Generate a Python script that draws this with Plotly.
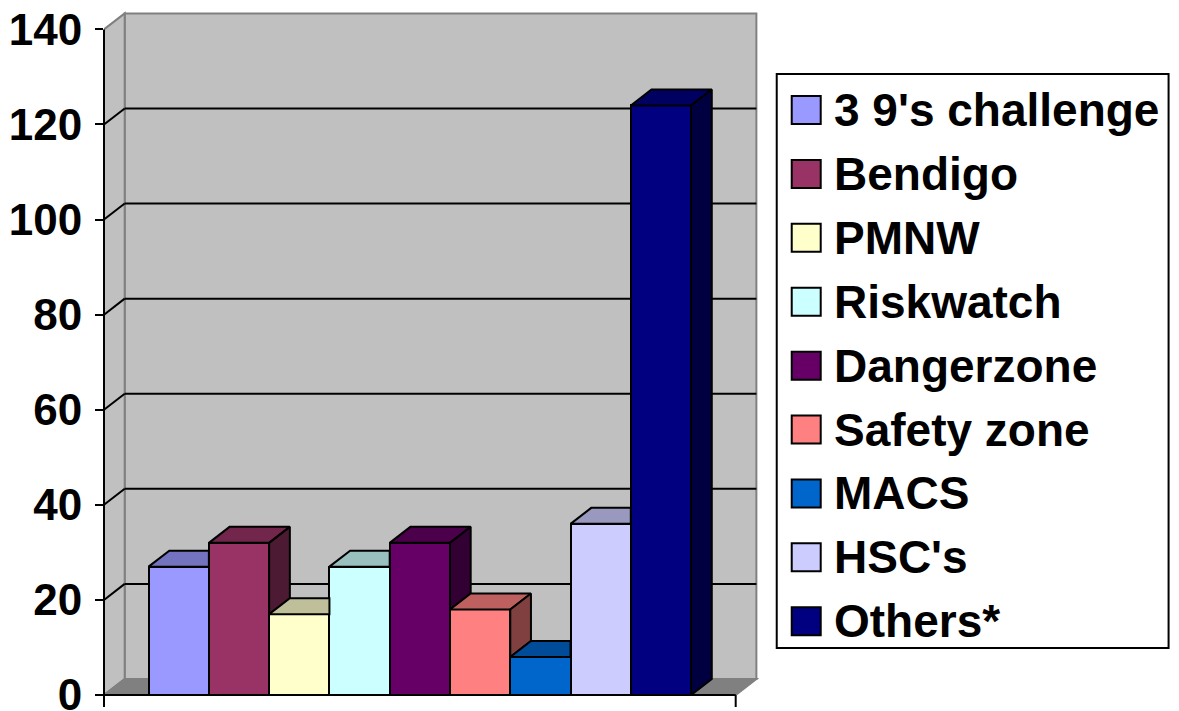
import plotly.graph_objects as go

# ---------------- data ----------------
programs = ["3 9's challenge", "Bendigo", "PMNW", "Riskwatch", "Dangerzone",
            "Safety zone", "MACS", "HSC's", "Others*"]
counts = [27, 32, 17, 27, 32, 18, 8, 36, 124]
colors = ["#9999FF", "#993366", "#FFFFCC", "#CCFFFF", "#660066",
          "#FF8080", "#0066CC", "#CCCCFF", "#000080"]
y_ticks = [0, 20, 40, 60, 80, 100, 120, 140]


def shade(hex_color, f):
    h = hex_color.lstrip("#")
    r, g, b = (int(h[i:i + 2], 16) for i in (0, 2, 4))
    return "rgb(%d,%d,%d)" % (round(r * f), round(g * f), round(b * f))


# ---------------- geometry ----------------
FIG_W, FIG_H = 1179, 711
PX_X = 60.3          # pixels per bar width unit
PX_Y = 4.755         # pixels per value unit
ORIGIN_X, ORIGIN_Y = 104, 695
GAP = 0.74
DX = 20.7 / PX_X     # depth offset (x units)
DY = 16.0 / PX_Y     # depth offset (value units)
N = len(counts)
XF = N + 2 * GAP
YTOP = y_ticks[-1]
XMAX = XF + DX + 0.06
YMAX = YTOP + DY + 0.5
plot_w = XMAX * PX_X
plot_h = YMAX * PX_Y
ml = ORIGIN_X
mb = FIG_H - ORIGIN_Y
mt = ORIGIN_Y - plot_h
mr = FIG_W - ml - plot_w


def pxp(px):
    return (px - ml) / plot_w


def pyp(py):
    return (ORIGIN_Y - py) / plot_h


FONT = "Liberation Sans, Arial, Helvetica, sans-serif"
WALL = "#C0C0C0"
FLOOR = "#808080"
EDGE = "#808080"

shapes = []
# back wall
shapes.append(dict(type="path", xref="x", yref="y", layer="below",
                   path="M %f,%f L %f,%f L %f,%f L %f,%f Z" % (
                       DX, DY, XF + DX, DY, XF + DX, YTOP + DY, DX, YTOP + DY),
                   fillcolor=WALL, line=dict(color=EDGE, width=2)))
# left wall
shapes.append(dict(type="path", xref="x", yref="y", layer="below",
                   path="M %f,%f L %f,%f L %f,%f L %f,%f Z" % (
                       0, 0, DX, DY, DX, YTOP + DY, 0, YTOP),
                   fillcolor=WALL, line=dict(color=EDGE, width=2)))
# floor
shapes.append(dict(type="path", xref="x", yref="y", layer="below",
                   path="M %f,%f L %f,%f L %f,%f L %f,%f Z" % (
                       0, 0, XF, 0, XF + DX, DY, DX, DY),
                   fillcolor=FLOOR, line=dict(color=EDGE, width=2)))
# gridlines on back wall and left wall
for v in y_ticks[1:-1]:
    shapes.append(dict(type="line", xref="x", yref="y", layer="below",
                       x0=DX, x1=XF + DX, y0=v + DY, y1=v + DY,
                       line=dict(color="black", width=2)))
    shapes.append(dict(type="line", xref="x", yref="y", layer="below",
                       x0=0, x1=DX, y0=v, y1=v + DY,
                       line=dict(color="black", width=2)))
# front axes
shapes.append(dict(type="line", xref="paper", yref="paper",
                   x0=0, x1=0, y0=0, y1=YTOP / YMAX,
                   line=dict(color="black", width=2)))
shapes.append(dict(type="line", xref="paper", yref="paper",
                   x0=0, x1=XF / XMAX, y0=0, y1=0,
                   line=dict(color="black", width=2)))
for xv in (0, XF):
    shapes.append(dict(type="line", xref="paper", yref="paper",
                       x0=xv / XMAX, x1=xv / XMAX, y0=0, y1=-12 / plot_h,
                       line=dict(color="black", width=2)))

fig = go.Figure()

# front faces (bars)
fig.add_trace(go.Bar(
    x=[GAP + i + 0.5 for i in range(N)], y=counts, width=1,
    marker=dict(color=colors, line=dict(color="black", width=2)),
    hovertext=programs, showlegend=False))

# top and side faces
for i, v in enumerate(counts):
    xl = GAP + i
    xr = xl + 1
    nxt = counts[i + 1] if i + 1 < N else None
    if nxt is not None and nxt > v:
        tx = [xl, xr, xr, xl + DX, xl]
        ty = [v, v, v + DY, v + DY, v]
    else:
        tx = [xl, xr, xr + DX, xl + DX, xl]
        ty = [v, v, v + DY, v + DY, v]
    fig.add_trace(go.Scatter(x=tx, y=ty, mode="lines", fill="toself",
                             fillcolor=shade(colors[i], 0.75),
                             line=dict(color="black", width=2),
                             hoverinfo="skip", showlegend=False))
    if nxt is None or nxt < v:
        low = 0 if nxt is None else nxt
        sx = [xr, xr, xr + DX, xr + DX, xr]
        sy = [low, v, v + DY, low + DY, low]
        fig.add_trace(go.Scatter(x=sx, y=sy, mode="lines", fill="toself",
                                 fillcolor=shade(colors[i], 0.5),
                                 line=dict(color="black", width=2),
                                 hoverinfo="skip", showlegend=False))

# manual legend
LEG_L, LEG_R, LEG_T, LEG_B = 777, 1169, 74, 648
shapes.append(dict(type="rect", xref="paper", yref="paper",
                   x0=pxp(LEG_L), x1=pxp(LEG_R), y0=pyp(LEG_B), y1=pyp(LEG_T),
                   fillcolor="white", line=dict(color="black", width=2)))
annotations = []
for i, name in enumerate(programs):
    cy = 110 + 63.9 * i
    shapes.append(dict(type="rect", xref="paper", yref="paper",
                       x0=pxp(792), x1=pxp(821), y0=pyp(cy + 14), y1=pyp(cy - 14),
                       fillcolor=colors[i], line=dict(color="black", width=2)))
    annotations.append(dict(xref="paper", yref="paper", x=pxp(832), y=pyp(cy),
                            xanchor="left", yanchor="middle", text=name,
                            showarrow=False,
                            font=dict(family=FONT, size=46, color="black",
                                      weight="bold")))

fig.update_layout(
    width=FIG_W, height=FIG_H,
    margin=dict(l=ml, r=mr, t=mt, b=mb, autoexpand=False),
    paper_bgcolor="white", plot_bgcolor="white",
    showlegend=False, bargap=0,
    shapes=shapes, annotations=annotations,
    xaxis=dict(range=[0, XMAX], visible=False, fixedrange=True),
    yaxis=dict(range=[0, YMAX], tickvals=y_ticks, ticks="outside", ticklen=8,
               tickwidth=2, tickcolor="black", showgrid=False, zeroline=False,
               showline=False, automargin=False, ticklabelstandoff=4,
               ticklabeloverflow="allow",
               tickfont=dict(family=FONT, size=44, color="black", weight="bold"),
               fixedrange=True),
)

fig.write_html("out.html")
